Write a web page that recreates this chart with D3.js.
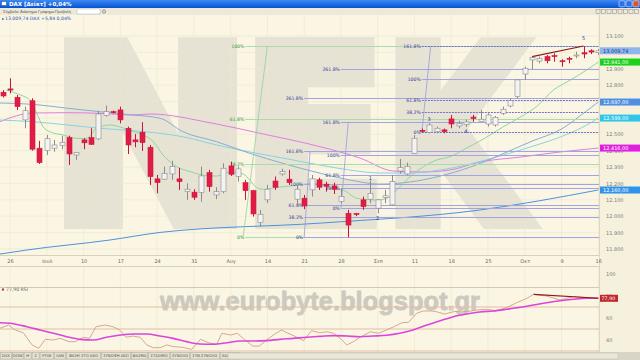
<!DOCTYPE html>
<html>
<head>
<meta charset="utf-8">
<script src="https://cdn.jsdelivr.net/npm/d3@7"></script>
<style>
  body { margin: 0; background: #efebd7; }
  svg { display: block; font-family: "DejaVu Sans", sans-serif; }
</style>
</head>
<body>
<div id="chart"></div>
<script>
// daily candles (index 0 = first candle on the left)
const opens = [12757,12777,12726,12588,12705,12415,12400,12415,12431,12480,
  12374,12466,12480,12472,12614,12638,12649,12537,12466,12513,
  12421,12228,12226,12258,12228,12150,12147,12146,12266,12130,
  12150,12307,12242,12205,12156,11961,12100,12215,12258,12226,
  12104,12110,12161,12222,12196,12185,12089,12018,12016,12100,
  12104,12049,12115,12069,12276,12258,12384,12524,12512,12516,
  12527,12594,12551,12560,12605,12577,12563,12557,12628,12673,
  12730,12868,12954,12947,12974,12980,12949,12964,12978,12998,
  13010,12998];
const highs = [12770,12842,12740,12669,12720,12460,12496,12466,12490,12492,
  12390,12476,12537,12644,12675,12645,12669,12547,12502,12574,
  12435,12252,12303,12339,12295,12201,12165,12303,12283,12177,
  12323,12333,12303,12222,12161,12039,12191,12242,12290,12283,
  12191,12130,12252,12235,12210,12205,12171,12039,12020,12120,
  12217,12104,12161,12252,12350,12327,12496,12535,12567,12547,
  12535,12618,12583,12590,12618,12649,12628,12612,12669,12720,
  12836,12913,12974,12974,12984,12994,12958,12974,13004,13039,
  13019,13020];
const lows = [12725,12750,12648,12537,12400,12319,12374,12394,12409,12313,
  12344,12409,12435,12466,12608,12626,12567,12380,12421,12398,
  12191,12140,12222,12222,12161,12100,12100,12089,12150,12104,
  12140,12246,12211,12100,11998,11937,12080,12161,12248,12191,
  12063,12043,12120,12160,12150,12136,12080,11872,12000,12039,
  12080,12018,12080,12063,12260,12252,12380,12510,12506,12506,
  12506,12537,12537,12545,12577,12577,12547,12547,12618,12665,
  12720,12832,12897,12933,12933,12943,12913,12933,12964,12964,
  12990,12985];
const closes = [12734,12770,12669,12644,12409,12327,12473,12435,12451,12380,
  12388,12448,12439,12624,12638,12632,12588,12435,12454,12449,
  12242,12205,12262,12303,12211,12165,12116,12246,12181,12150,
  12293,12256,12289,12156,12014,12012,12165,12177,12272,12205,
  12165,12063,12228,12177,12183,12165,12120,11946,12010,12059,
  12140,12100,12125,12211,12297,12303,12476,12520,12557,12537,
  12516,12563,12567,12575,12597,12592,12618,12604,12653,12705,
  12832,12903,12968,12964,12949,12974,12943,12958,12984,12990,
  13002,13009.74];

// date labels and the candle they sit under
const dayLabels = ["26","Ιουλ","10","17","24","31","Αυγ","14","21","28","Σεπ","11","18","25","Οκτ","9","16"];
const labelIdx = [1,6,11,16,21,26,31,36,41,46,51,56,61,66,71,76,81];
const priceTicks = d3.range(11800, 13101, 100);

// moving averages [candle index, value]
const greenMA = [[0.5,12770],[2.4,12740],[3.7,12709],[4.6,12630],[5.5,12546],[6.4,12516],[8.2,12496],[10.1,12475],[11.4,12475],[12.8,12537],[14.6,12557],[15.9,12546],[17.8,12516],[19.1,12496],[20.5,12455],[21.8,12374],[23.7,12302],[25.5,12272],[27.3,12251],[29.1,12245],[30.9,12270],[32.7,12258],[33.6,12221],[34.5,12176],[35.5,12164],[37.3,12176],[39.1,12184],[40.9,12196],[42.7,12201],[44.5,12172],[46.3,12160],[48.2,12109],[50.9,12099],[52.7,12119],[53.6,12160],[55.4,12241],[57.2,12302],[59.0,12343],[60.8,12363],[63.1,12416],[65.6,12477],[68.0,12544],[70.4,12605],[72.7,12673],[74.9,12770],[77.2,12831],[79.4,12892],[81,12941]];
const blueMA = [[-0.4,12691],[4.1,12683],[8.8,12659],[13.2,12638],[17.7,12618],[21.4,12598],[24.5,12516],[29.1,12455],[33.6,12384],[38.1,12323],[43.2,12262],[47.2,12221],[51.3,12196],[55.4,12209],[59.5,12245],[63.6,12300],[67.6,12373],[71.7,12453],[76.2,12538],[79.2,12636],[81,12697]];
const cyanMA = [[-0.4,12587],[4.1,12577],[8.8,12557],[13.2,12537],[17.7,12522],[21.4,12506],[24.5,12485],[29.1,12435],[33.6,12392],[38.1,12355],[43.2,12312],[47.2,12282],[51.3,12264],[55.4,12264],[59.5,12282],[63.6,12319],[67.6,12367],[71.7,12422],[75.8,12483],[79.2,12551],[81,12599]];
const pinkMA = [[-0.4,12577],[4.1,12630],[8.8,12632],[13.2,12628],[17.7,12618],[20.0,12624],[28.6,12567],[35.0,12506],[43.2,12424],[48.6,12355],[53.1,12276],[56.8,12270],[60.8,12282],[64.9,12331],[70.4,12361],[75.8,12392],[81,12416]];
const longMA = [[-0.4,11769],[3.3,11794],[14.6,11855],[21.4,11901],[43.2,11958],[64.9,12038],[81,12160]];

// fibonacci drawings: first candle, 0% and 100% anchors, levels shown
const fibStart = [33, 41, 46, 57];
const fibLow = [11873, 11871, 12048, 12512];
const fibHigh = [13039, 12195, 12374, 12836];
const fibLevels = [[0,0.382,0.618,1],[0,0.382,0.618,1,1.618,2.618],[0,0.382,0.618,1,1.618,2.618],[0,0.382,0.618,1,1.618]];
const fibDiag = [[32.7,0,36,1],[41,0,41.8,1.618],[46,0,47,1.618],[57,0,58.2,1.618]];

// trend lines and wave counts
const priceTrend = [[72,12974],[79,13039]];
const waveText = ["1","2","3","4","5"];
const waveIdx = [50,51,58,63,79];
const waveVal = [12232,11990,12592,12520,13085];

// RSI panel
const rsiLine = [[-0.4,50.6],[0.8,53.6],[1.7,49.1],[2.8,46.6],[4.0,35.5],[4.9,32.5],[5.8,40.6],[6.9,40],[7.8,41.5],[9.0,38.5],[9.9,38.5],[11.0,42.5],[11.8,41.5],[12.7,52.1],[13.9,53.6],[15.0,52.1],[15.9,49.1],[16.8,42.5],[17.7,43.6],[18.7,42.5],[19.6,35.5],[20.5,33],[21.4,33],[22.3,35.5],[23.2,34],[24.4,33.4],[25.7,31.5],[26.9,40.6],[28.0,37.5],[29.1,36],[29.8,46.1],[31.0,44.5],[31.9,46.1],[32.7,41.5],[34.0,34.5],[34.9,34.5],[35.9,40],[36.8,44.5],[37.9,49.1],[38.8,46.1],[39.7,43.6],[40.9,39.4],[42.0,48.5],[43.1,46.6],[44.1,47.5],[45.0,46.1],[45.9,41.5],[46.8,35.5],[47.7,38.5],[48.6,42.5],[50.0,47.5],[51.1,46.1],[52.2,49.1],[53.2,52.1],[54.3,55.7],[55.2,56.1],[56.3,64.3],[57.2,66.4],[58.3,66.4],[59.0,65.7],[60.1,63.6],[61.3,65.7],[62.2,66.4],[63.1,65.7],[64.5,67.3],[65.8,67.9],[67.2,66.6],[68.6,69.7],[69.9,73.9],[71.3,77.9],[72.2,81.5],[74.0,80],[75.8,76.4],[77.6,79.4],[79.4,78.5],[81,77.9]];
const rsiSignal = [[-0.4,55.7],[1.0,55.2],[3.3,52.1],[5.1,49.1],[6.9,46.1],[8.7,43],[10.5,40.6],[12.3,40],[14.1,42.5],[16.0,44.5],[17.8,45.5],[19.6,45.5],[21.4,43.6],[23.2,41.5],[25.0,38.5],[26.8,36.4],[28.6,36.1],[30.5,37.5],[32.3,39.1],[34.1,39.1],[35.9,39.4],[37.7,40.6],[39.5,41.5],[41.3,42.5],[43.2,43.3],[45.0,44],[46.8,43.6],[48.6,43],[50.4,43.6],[52.2,44.3],[54.0,46.1],[55.8,49.1],[57.7,53.6],[59.5,57.5],[61.3,61.2],[63.1,63.6],[64.9,65.5],[66.7,66.4],[68.5,67.9],[70.4,69.7],[72.2,71.8],[74.0,73.9],[75.8,75.7],[77.6,77],[79.4,77.9],[81,77.9]];
const rsiTrend = [[72.2,81.5],[81,77.9]];
const rsiLevels = [30, 50, 70];
const rsiTicks = [40, 60, 80, 100];

const menuItems = ["Σύμβολο","Διάστημα","Γράφημα","Προβολή"];
const tabNames = ["DAX","DOW","H","Σ","FTSE","ΛΑΝ","ΦΑΣΗ ΣΤΟ ΑΚΟ","ΣΥΝΟΨΗ ΑΚΟ","ΦΑΣΜΑ","ΣΤΑΣΙΜΟ","ΣΥΝΟΛΟ","ΣΥΝ.ΣΥΝΟΛΟ","ΧΑΛΚΟΣ"];

const loc = d3.formatLocale({decimal: ",", thousands: ".", grouping: [3], currency: ["", ""]});
const fmt0 = loc.format(",.0f");
const fmt2 = loc.format(",.2f");

const W = 640, H = 360;
const svg = d3.select("#chart").append("svg").attr("width", W).attr("height", H);

const x = d3.scaleLinear().domain([0, 81]).range([2.7, 598.3]);
const y = d3.scaleLinear().domain([11800, 13100]).range([249, 36]);
const yR = d3.scaleLinear().domain([30, 70]).range([351, 307]);

// backgrounds
svg.append("rect").attr("width", W).attr("height", H).attr("fill", "#faf6e3");
svg.append("rect").attr("x", 599).attr("y", 15).attr("width", 41).attr("height", 337).attr("fill", "#f6f1dc");

const defs = svg.append("defs");
defs.append("clipPath").attr("id", "pclip").append("rect").attr("x", 0).attr("y", 15).attr("width", 599).attr("height", 240);
defs.append("clipPath").attr("id", "rclip").append("rect").attr("x", 0).attr("y", 266).attr("width", 599).attr("height", 86);
const tb = defs.append("linearGradient").attr("id", "tbar").attr("x1", 0).attr("y1", 0).attr("x2", 0).attr("y2", 1);
tb.append("stop").attr("offset", 0).attr("stop-color", "#3d8af2");
tb.append("stop").attr("offset", 1).attr("stop-color", "#0552d4");

// watermarks (heavy letters: bold glyph plus a same-colour outline)
const wm = svg.append("g").attr("clip-path", "url(#pclip)").attr("font-weight", "bold")
  .attr("fill", "#e7e3d4").attr("stroke", "#e7e3d4").attr("stroke-width", 16).attr("stroke-linejoin", "miter");
[["N", 50, 201], ["E", 243, 142], ["K", 385, 138]].forEach(([t, x0, w]) => {
  wm.append("text").attr("x", x0).attr("y", 221).attr("font-size", 240)
    .attr("textLength", w).attr("lengthAdjust", "spacingAndGlyphs").text(t);
});
svg.append("text").attr("x", 160).attr("y", 310).attr("font-family", "Liberation Sans, Arial, sans-serif")
  .attr("font-weight", "bold").attr("font-size", 26).attr("fill", "#cdc9bf")
  .attr("stroke", "#cdc9bf").attr("stroke-width", 0.8)
  .attr("textLength", 320).attr("lengthAdjust", "spacingAndGlyphs").text("www.eurobyte.blogspot.gr");

// grid
const grid = svg.append("g").attr("stroke", "#ece5cd").attr("stroke-width", 0.6);
grid.selectAll("line.v").data(labelIdx).join("line")
  .attr("x1", d => x(d)).attr("x2", d => x(d)).attr("y1", 15).attr("y2", 255);
grid.selectAll("line.v2").data(labelIdx).join("line")
  .attr("x1", d => x(d)).attr("x2", d => x(d)).attr("y1", 266).attr("y2", 352);
grid.selectAll("line.h").data(priceTicks).join("line")
  .attr("x1", 0).attr("x2", 599).attr("y1", d => y(d)).attr("y2", d => y(d));

// price panel
const plot = svg.append("g").attr("clip-path", "url(#pclip)");
const maLine = d3.line().x(d => x(d[0])).y(d => y(d[1])).curve(d3.curveMonotoneX);
const maSeries = [[longMA, "#4a93dc"], [pinkMA, "#e07ee0"], [cyanMA, "#86d4de"], [blueMA, "#86aed6"], [greenMA, "#8fd69b"]];
maSeries.forEach(([data, col]) => {
  plot.append("path").datum(data).attr("fill", "none").attr("stroke", col).attr("stroke-width", 1).attr("d", maLine);
});

// fibonacci levels
fibStart.forEach((s, k) => {
  const green = k === 0;
  const g = plot.append("g");
  const lv = r => fibLow[k] + r * (fibHigh[k] - fibLow[k]);
  fibLevels[k].forEach(r => {
    const yy = Math.round(y(lv(r))) + 0.5;
    g.append("line").attr("x1", x(s)).attr("x2", 599).attr("y1", yy).attr("y2", yy)
      .attr("stroke", green ? "#a9dcac" : (k === 3 && r !== 1 ? "#6f6fd6" : "#a3a3e4"))
      .attr("stroke-width", 1)
      .attr("stroke-dasharray", k === 3 && r !== 1 ? "2,1" : null);
    g.append("text").attr("x", x(s) - 1).attr("y", yy + 1.7).attr("text-anchor", "end")
      .attr("font-size", 4.6).attr("fill", green ? "#2e9a35" : "#3434a8")
      .text(d3.format(".1f")(r * 100).replace(/\.0$/, "") + "%");
  });
  const d = fibDiag[k];
  g.append("line").attr("x1", x(d[0])).attr("y1", y(lv(d[1]))).attr("x2", x(d[2])).attr("y2", y(lv(d[3])))
    .attr("stroke", green ? "#8fd39a" : "#9a9ae0").attr("stroke-width", 0.8);
});

// candles
const candles = plot.append("g");
const bw = 5;
closes.forEach((c, i) => {
  const o = opens[i], up = c >= o;
  const cx = Math.round(x(i)) + 0.5;
  candles.append("line").attr("x1", cx).attr("x2", cx).attr("y1", y(highs[i])).attr("y2", y(lows[i]))
    .attr("stroke", up ? "#8c8c8c" : "#c8143c").attr("stroke-width", 1);
  const top = y(Math.max(o, c)), bot = y(Math.min(o, c));
  candles.append("rect").attr("x", cx - bw / 2).attr("y", top).attr("width", bw)
    .attr("height", Math.max(1, bot - top))
    .attr("fill", up ? "#f3f3f3" : "#df1c45")
    .attr("stroke", up ? "#8c8c8c" : "#d01840").attr("stroke-width", 0.6);
});

plot.append("path").datum(priceTrend).attr("fill", "none").attr("stroke", "#8b1a1a").attr("stroke-width", 1.1)
  .attr("d", d3.line().x(d => x(d[0])).y(d => y(d[1])));

plot.selectAll("text.wave").data(waveText).join("text")
  .attr("x", (d, i) => x(waveIdx[i])).attr("y", (d, i) => y(waveVal[i]) + 1.8)
  .attr("text-anchor", "middle").attr("font-size", 5).attr("fill", "#3434a8").text(d => d);

// price axis
svg.append("g").attr("transform", "translate(603,0)")
  .call(d3.axisRight(y).tickValues(priceTicks).tickSize(0).tickFormat(fmt0))
  .call(g => g.select(".domain").remove())
  .selectAll("text").attr("font-size", 5).attr("fill", "#7a7a7a").attr("font-family", "DejaVu Sans");

// value boxes on the axis
const boxes = [
  [closes[closes.length - 1], "#8fb6ec", "#1a3a80"],
  [greenMA[greenMA.length - 1][1], "#19d219", "#ffffff"],
  [blueMA[blueMA.length - 1][1], "#4f8fe3", "#ffffff"],
  [cyanMA[cyanMA.length - 1][1], "#2fc6ea", "#ffffff"],
  [pinkMA[pinkMA.length - 1][1], "#e01fe0", "#ffffff"],
  [longMA[longMA.length - 1][1], "#2f93ec", "#ffffff"]
];
boxes.forEach(([v, bg, fg]) => {
  svg.append("rect").attr("x", 600).attr("y", y(v) - 3.5).attr("width", 40).attr("height", 7).attr("fill", bg);
  svg.append("text").attr("x", 603).attr("y", y(v) + 1.8).attr("font-size", 5).attr("fill", fg).text(fmt2(v));
});

// date axis
svg.append("line").attr("x1", 0).attr("x2", 599).attr("y1", 255.5).attr("y2", 255.5).attr("stroke", "#d8d1b8");
svg.append("line").attr("x1", 0).attr("x2", 599).attr("y1", 266.5).attr("y2", 266.5).attr("stroke", "#d8d1b8");
svg.append("line").attr("x1", 599.5).attr("x2", 599.5).attr("y1", 15).attr("y2", 352).attr("stroke", "#ddd6be");
svg.append("g").attr("transform", "translate(0,256)")
  .call(d3.axisBottom(x).tickValues(labelIdx).tickSize(0).tickFormat((d, i) => dayLabels[i]))
  .call(g => g.select(".domain").remove())
  .selectAll("text").attr("font-size", 5).attr("fill", "#6a6a6a").attr("font-family", "DejaVu Sans");

// RSI panel
svg.append("line").attr("x1", 0).attr("x2", 599).attr("y1", 287.5).attr("y2", 287.5).attr("stroke", "#d9c8b0");
const rsi = svg.append("g").attr("clip-path", "url(#rclip)");
rsi.selectAll("line.lvl").data(rsiLevels).join("line")
  .attr("x1", 0).attr("x2", 599).attr("y1", d => yR(d)).attr("y2", d => yR(d))
  .attr("stroke", "#e2bda5").attr("stroke-width", 1);
const rLine = d3.line().x(d => x(d[0])).y(d => yR(d[1]));
rsi.append("path").datum(rsiLine).attr("fill", "none").attr("stroke", "#cf9f86").attr("stroke-width", 0.9).attr("d", rLine);
rsi.append("path").datum(rsiSignal).attr("fill", "none").attr("stroke", "#db45db").attr("stroke-width", 1.6)
  .attr("d", rLine.curve(d3.curveMonotoneX));
rsi.append("path").datum(rsiTrend).attr("fill", "none").attr("stroke", "#8b1a1a").attr("stroke-width", 1.1)
  .attr("d", d3.line().x(d => x(d[0])).y(d => yR(d[1])));

svg.append("g").attr("transform", "translate(603,0)")
  .call(d3.axisRight(yR).tickValues(rsiTicks).tickSize(0).tickFormat(d3.format("d")))
  .call(g => g.select(".domain").remove())
  .selectAll("text").attr("font-size", 5).attr("fill", "#7a7a7a").attr("font-family", "DejaVu Sans");
const rsiLast = rsiLine[rsiLine.length - 1][1];
svg.append("rect").attr("x", 600).attr("y", yR(rsiLast) - 3.5).attr("width", 18).attr("height", 7).attr("fill", "#c0282c");
svg.append("text").attr("x", 601.5).attr("y", yR(rsiLast) + 1.8).attr("font-size", 4.8).attr("fill", "#fff").text(fmt2(rsiLast));
svg.append("rect").attr("x", 2).attr("y", 288.5).attr("width", 2).attr("height", 2).attr("fill", "#c0282c");
svg.append("text").attr("x", 6).attr("y", 291).attr("font-size", 4.6).attr("fill", "#666").text(fmt2(rsiLast) + " RSI");

// window chrome
svg.append("rect").attr("width", W).attr("height", 8).attr("fill", "url(#tbar)");
svg.append("rect").attr("x", 1.5).attr("y", 1.5).attr("width", 5).attr("height", 4).attr("fill", "#fff").attr("stroke", "#1a3f9c").attr("stroke-width", 0.5);
svg.append("text").attr("x", 9).attr("y", 6).attr("font-size", 5.5).attr("font-weight", "bold").attr("fill", "#fff").text("DAX [Δείκτ] +0,04%");
[619, 626, 633].forEach((bx, i) => {
  svg.append("rect").attr("x", bx).attr("y", 0.8).attr("width", 6).attr("height", 6).attr("rx", 1)
    .attr("fill", i === 2 ? "#d9532b" : "#2f6fe6").attr("stroke", "#fff").attr("stroke-width", 0.5);
});
svg.append("rect").attr("y", 8).attr("width", W).attr("height", 7).attr("fill", "#ece9d8");
const menuX = [3, 20, 38, 55];
svg.selectAll("text.menu").data(menuItems).join("text")
  .attr("x", (d, i) => menuX[i]).attr("y", 13.3).attr("font-family", "Liberation Sans, sans-serif")
  .attr("font-size", 4).attr("fill", "#555").text(d => d);
svg.append("rect").attr("x", 77).attr("y", 9).attr("width", 23).attr("height", 5).attr("fill", "#fff").attr("stroke", "#9aa").attr("stroke-width", 0.4);
svg.append("circle").attr("cx", 104).attr("cy", 11.5).attr("r", 1.6).attr("fill", "none").attr("stroke", "#556").attr("stroke-width", 0.6);
d3.range(8).forEach(i => {
  svg.append("rect").attr("x", 596 + i * 5.5).attr("y", 9.5).attr("width", 4).attr("height", 4)
    .attr("fill", "none").attr("stroke", "#888").attr("stroke-width", 0.5);
});
svg.append("rect").attr("x", 2).attr("y", 18.2).attr("width", 1.6).attr("height", 1.6).attr("fill", "#3a62c0");
svg.append("text").attr("x", 5).attr("y", 20).attr("font-size", 4.6).attr("fill", "#2a55b0")
  .text(fmt2(closes[closes.length - 1]) + " DAX +5,84 0,04%");

// bottom tab strip
svg.append("rect").attr("y", 352).attr("width", W).attr("height", 8).attr("fill", "#d9d5c6");
let tx = 0.5;
tabNames.forEach(t => {
  const w = Math.max(7, t.length * 2.6 + 3);
  svg.append("rect").attr("x", tx).attr("y", 352.5).attr("width", w).attr("height", 6.5)
    .attr("fill", "#e4e0d2").attr("stroke", "#a8a496").attr("stroke-width", 0.4);
  svg.append("text").attr("x", tx + w / 2).attr("y", 357.4).attr("text-anchor", "middle")
    .attr("font-size", 3.8).attr("fill", "#555").text(t);
  tx += w + 1;
});
svg.append("rect").attr("x", 228).attr("y", 353).attr("width", 390).attr("height", 6).attr("fill", "#ebe7d8").attr("stroke", "#b5b1a3").attr("stroke-width", 0.4);
</script>
</body>
</html>
